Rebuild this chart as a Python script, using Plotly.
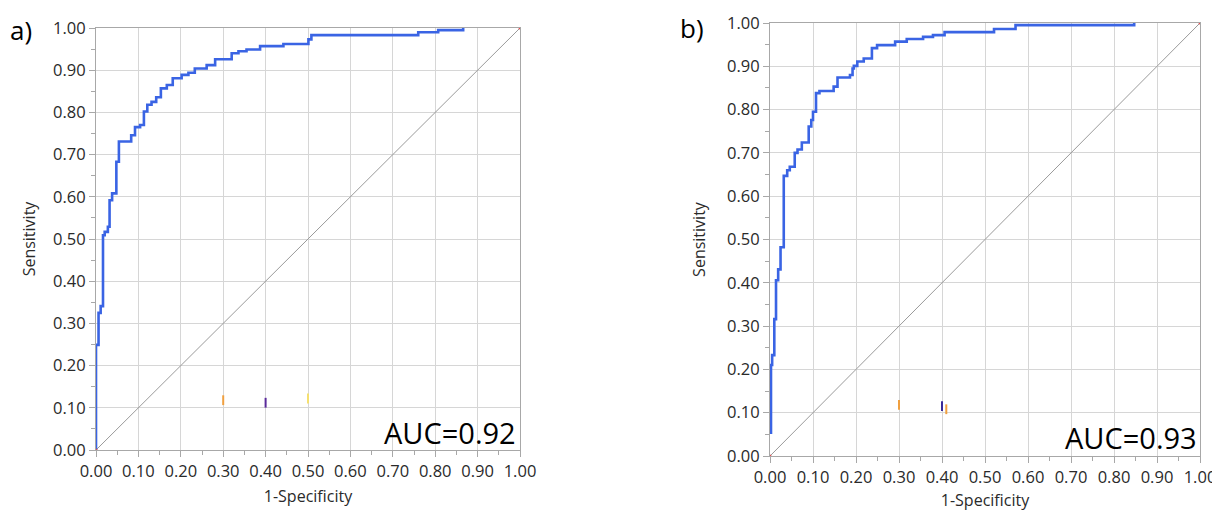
import plotly.graph_objects as go

# ---------------- data ----------------
# Panel a) ROC corner points (1-Specificity, Sensitivity)
fpr_a = [0.0, 0.0, 0.006, 0.011, 0.0165, 0.0205, 0.028, 0.032, 0.038, 0.048, 0.054,
         0.083, 0.092, 0.104, 0.113, 0.121, 0.131, 0.142, 0.153, 0.167, 0.181,
         0.202, 0.218, 0.233, 0.261, 0.281, 0.320, 0.336, 0.355, 0.387, 0.442,
         0.501, 0.508, 0.760, 0.807, 0.866]
tpr_a = [0.0, 0.249, 0.325, 0.341, 0.509, 0.517, 0.529, 0.592, 0.608, 0.683, 0.731,
         0.746, 0.765, 0.770, 0.802, 0.818, 0.825, 0.836, 0.857, 0.865, 0.881,
         0.889, 0.894, 0.904, 0.912, 0.926, 0.940, 0.945, 0.949, 0.957, 0.962,
         0.973, 0.983, 0.990, 0.995, 1.0]

# Panel b) ROC corner points
fpr_b = [0.0023, 0.0023, 0.005, 0.010, 0.014, 0.019, 0.0245, 0.032, 0.040, 0.046,
         0.0575, 0.064, 0.074, 0.090, 0.096, 0.100, 0.107, 0.115, 0.148, 0.157,
         0.186, 0.192, 0.195, 0.203, 0.218, 0.237, 0.249, 0.291, 0.318, 0.356,
         0.379, 0.406, 0.521, 0.571, 0.847]
tpr_b = [0.051, 0.210, 0.233, 0.316, 0.406, 0.431, 0.482, 0.647, 0.660, 0.668,
         0.700, 0.708, 0.724, 0.761, 0.776, 0.795, 0.838, 0.843, 0.853, 0.874,
         0.880, 0.895, 0.901, 0.911, 0.918, 0.942, 0.949, 0.957, 0.963, 0.968,
         0.972, 0.979, 0.986, 0.995, 1.0]

diag = [0.0, 1.0]

# small coloured marks left in the original plots
marks_a_x = [0.30, 0.40, 0.50]
marks_a_y = [0.118, 0.112, 0.122]
marks_a_c = ["#f0a040", "#5a2a9a", "#f5e070"]
marks_b_x = [0.30, 0.40, 0.41]
marks_b_y = [0.118, 0.115, 0.108]
marks_b_c = ["#f0a040", "#3a2a9a", "#f0a040"]

auc_labels = ["AUC=0.92", "AUC=0.93"]
panel_labels = ["a)", "b)"]
tick_vals = [round(i * 0.1, 1) for i in range(11)]
tick_text = ["%.2f" % v for v in tick_vals]
minor_vals = [round(0.05 + 0.1 * i, 2) for i in range(10)]

BLUE = "rgb(58,100,228)"
GRID = "#d6d6d6"
FRAME = "#a8a8a8"
FONT = "Open Sans"
TXT = "#2a2a2a"

fig = go.Figure()

panels = [
    dict(fx=fpr_a, ty=tpr_a, mx=marks_a_x, my=marks_a_y, mc=marks_a_c, xa="x", ya="y"),
    dict(fx=fpr_b, ty=tpr_b, mx=marks_b_x, my=marks_b_y, mc=marks_b_c, xa="x2", ya="y2"),
]

for p in panels:
    fig.add_trace(go.Scatter(x=diag, y=diag, mode="lines",
                             line=dict(color="#9a9a9a", width=1),
                             xaxis=p["xa"], yaxis=p["ya"], showlegend=False,
                             hoverinfo="skip"))
    fig.add_trace(go.Scatter(x=p["fx"], y=p["ty"], mode="lines",
                             line=dict(color=BLUE, width=2.6, shape="hv"),
                             xaxis=p["xa"], yaxis=p["ya"], showlegend=False))
    fig.add_trace(go.Scatter(x=p["mx"], y=p["my"], mode="markers",
                             marker=dict(symbol="line-ns-open", size=7,
                                         color=p["mc"],
                                         line=dict(color=p["mc"], width=2)),
                             xaxis=p["xa"], yaxis=p["ya"], showlegend=False,
                             hoverinfo="skip"))
    fig.add_trace(go.Scatter(x=diag, y=diag, mode="markers",
                             marker=dict(color="#e05050", size=3),
                             xaxis=p["xa"], yaxis=p["ya"], showlegend=False,
                             hoverinfo="skip"))

# the page body has an 8px margin: work in page pixels and shift
OFF = 8
W, H = 1220 - OFF, 511 - OFF


def fx(px):
    return (px - OFF) / W


def fy(py):
    return 1 - (py - OFF) / H


dom_a_x = [fx(96), fx(520)]
dom_a_y = [fy(450), fy(28)]
dom_b_x = [fx(770), fx(1200)]
dom_b_y = [fy(456), fy(23)]


def axis(domain, anchor, title, standoff):
    return dict(domain=domain, anchor=anchor, range=[0, 1.0], automargin=False,
                tickvals=tick_vals, ticktext=tick_text, ticklabeloverflow="allow",
                showgrid=True, gridcolor=GRID, gridwidth=1,
                zeroline=False, showline=True, linecolor=FRAME, linewidth=1,
                mirror=True, ticks="outside", ticklen=6, tickcolor=FRAME,
                minor=dict(tickvals=minor_vals, ticks="outside", ticklen=4,
                           tickcolor=FRAME, showgrid=False),
                tickfont=dict(family=FONT, size=16.5, color=TXT),
                title=dict(text=title, standoff=standoff,
                           font=dict(family=FONT, size=16, color=TXT)),
                fixedrange=True)


fig.update_layout(
    width=W, height=H,
    margin=dict(l=0, r=0, t=0, b=0, autoexpand=False),
    paper_bgcolor="white", plot_bgcolor="white",
    xaxis=axis(dom_a_x, "y", "1-Specificity", 10),
    yaxis=axis(dom_a_y, "x", "Sensitivity", 13),
    xaxis2=axis(dom_b_x, "y2", "1-Specificity", 11),
    yaxis2=axis(dom_b_y, "x2", "Sensitivity", 17),
    showlegend=False,
)

# AUC labels (inside plot, bottom-right)
fig.add_annotation(x=fx(518), y=fy(432), xref="paper", yref="paper",
                   text=auc_labels[0], showarrow=False, xanchor="right",
                   yanchor="middle", font=dict(family=FONT, size=29, color="black"))
fig.add_annotation(x=fx(1199), y=fy(437), xref="paper", yref="paper",
                   text=auc_labels[1], showarrow=False, xanchor="right",
                   yanchor="middle", font=dict(family=FONT, size=29, color="black"))

# panel letters
fig.add_annotation(x=fx(8), y=fy(10), xref="paper", yref="paper",
                   text=panel_labels[0], showarrow=False, xanchor="left",
                   yanchor="top", font=dict(family=FONT, size=26, color="black"))
fig.add_annotation(x=fx(678), y=fy(8.5), xref="paper", yref="paper",
                   text=panel_labels[1], showarrow=False, xanchor="left",
                   yanchor="top", font=dict(family=FONT, size=26, color="black"))

fig.write_html("out.html")
